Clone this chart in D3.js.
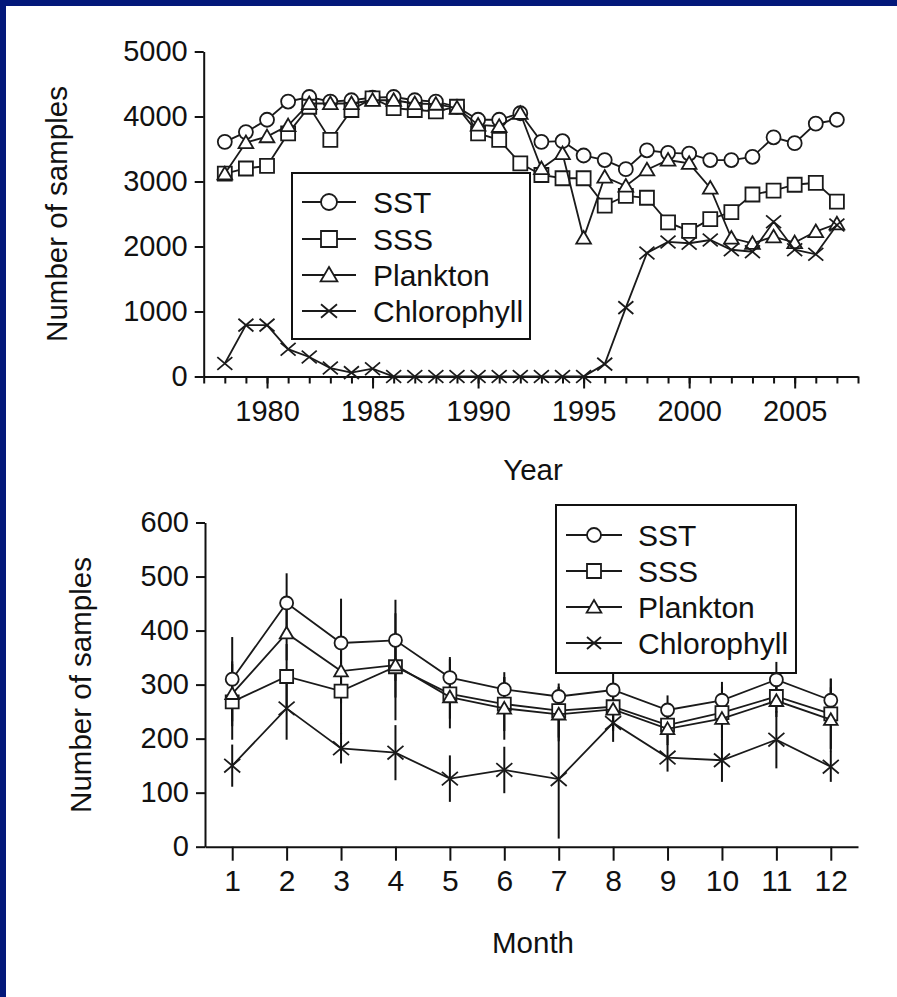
<!DOCTYPE html>
<html>
<head>
<meta charset="utf-8">
<script src="https://cdn.jsdelivr.net/npm/d3@7"></script>
<style>
  body { margin: 0; background: #fff; }
  text { font-family: "Liberation Sans", Arial, sans-serif; fill: #111; }
</style>
</head>
<body>
<div id="chart"></div>
<script>
// ---- data: annual totals (top panel) ----
var years = [1978, 1979, 1980, 1981, 1982, 1983, 1984, 1985, 1986, 1987,
             1988, 1989, 1990, 1991, 1992, 1993, 1994, 1995, 1996, 1997,
             1998, 1999, 2000, 2001, 2002, 2003, 2004, 2005, 2006, 2007];
var sstYear = [3610, 3760, 3950, 4230, 4300, 4230, 4250, 4290, 4300, 4250,
               4230, 4150, 3950, 3950, 4050, 3610, 3620, 3400, 3330, 3190,
               3480, 3440, 3430, 3330, 3330, 3380, 3680, 3590, 3890, 3950];
var sssYear = [3120, 3200, 3240, 3740, 4150, 3640, 4100, 4280, 4130, 4100,
               4080, 4150, 3740, 3640, 3280, 3100, 3050, 3050, 2630, 2780,
               2750, 2370, 2240, 2420, 2530, 2800, 2860, 2950, 2980, 2690];
var plkYear = [3120, 3600, 3690, 3860, 4200, 4200, 4200, 4250, 4250, 4200,
               4190, 4130, 3870, 3850, 4050, 3200, 3430, 2130, 3070, 2930,
               3180, 3330, 3280, 2900, 2130, 2050, 2150, 2060, 2230, 2350];
var chlYear = [200, 790, 790, 420, 300, 130, 60, 120, 0, 0,
               0, 0, 0, 0, 0, 0, 0, 0, 190, 1060,
               1900, 2070, 2050, 2100, 1950, 1920, 2380, 1950, 1880, 2330];
var yearMajorTicks = [1980, 1985, 1990, 1995, 2000, 2005];
var yearMinorTicks = [1977, 1978, 1979, 1980, 1981, 1982, 1983, 1984, 1985, 1986,
                      1987, 1988, 1989, 1990, 1991, 1992, 1993, 1994, 1995, 1996,
                      1997, 1998, 1999, 2000, 2001, 2002, 2003, 2004, 2005, 2006,
                      2007, 2008];
var yearYTicks = [0, 1000, 2000, 3000, 4000, 5000];

// ---- data: monthly means with error bars (bottom panel) ----
var months = [1, 2, 3, 4, 5, 6, 7, 8, 9, 10, 11, 12];
var sstMonth = [310, 451, 377, 382, 313, 291, 278, 290, 253, 271, 309, 271];
var sssMonth = [268, 315, 288, 333, 283, 264, 252, 259, 225, 248, 278, 246];
var plkMonth = [283, 395, 325, 336, 277, 256, 245, 254, 218, 237, 270, 235];
var chlMonth = [150, 256, 182, 174, 126, 142, 125, 229, 165, 160, 198, 148];
var sstErr = [78, 55, 82, 75, 38, 32, 18, 31, 27, 34, 33, 40];
var sssErr = [70, 60, 80, 99, 64, 50, 50, 40, 34, 48, 30, 65];
var plkErr = [60, 50, 60, 60, 40, 58, 50, 40, 30, 40, 30, 60];
var chlErr = [39, 58, 28, 51, 43, 43, 110, 35, 26, 40, 53, 28];
var monthYTicks = [0, 100, 200, 300, 400, 500, 600];

var seriesNames = ["SST", "SSS", "Plankton", "Chlorophyll"];
var seriesShapes = ["circle", "square", "triangle", "cross"];

function init() {
    var w = 897, h = 997;
    var svg = d3.select("#chart").append("svg")
        .attr("width", w)
        .attr("height", h);

    // white page with the dark blue frame at top and left
    svg.append("rect").attr("width", w).attr("height", h).attr("fill", "#fff");
    svg.append("rect").attr("width", w).attr("height", 6).attr("fill", "#03187a");
    svg.append("rect").attr("width", 6).attr("height", h).attr("fill", "#03187a");

    // marker path generator
    function markerPath(shape, s) {
        var r = s / 2;
        if (shape === "circle") {
            return "M" + (-r) + ",0A" + r + "," + r + " 0 1,0 " + r + ",0A" + r + "," + r + " 0 1,0 " + (-r) + ",0Z";
        } else if (shape === "square") {
            return "M" + (-r) + "," + (-r) + "H" + r + "V" + r + "H" + (-r) + "Z";
        } else if (shape === "triangle") {
            return "M0," + (-r * 1.0) + "L" + (r * 1.05) + "," + (r * 0.8) + "L" + (-r * 1.05) + "," + (r * 0.8) + "Z";
        }
        return "M" + (-r) + "," + (-r * 0.85) + "L" + r + "," + (r * 0.85) + "M" + (-r) + "," + (r * 0.85) + "L" + r + "," + (-r * 0.85);
    }

    function drawSeries(g, xs, vals, x, y, shape, size) {
        var line = d3.line()
            .x(function (d, i) { return x(xs[i]); })
            .y(function (d) { return y(d); });
        g.append("path")
            .datum(vals)
            .attr("d", line)
            .attr("fill", "none")
            .attr("stroke", "#1a1a1a")
            .attr("stroke-width", 1.8);
        g.selectAll(null)
            .data(vals)
            .enter()
            .append("path")
            .attr("transform", function (d, i) { return "translate(" + x(xs[i]) + "," + y(d) + ")"; })
            .attr("d", markerPath(shape, size))
            .attr("fill", shape === "cross" ? "none" : "#fff")
            .attr("stroke", "#1a1a1a")
            .attr("stroke-width", 1.8);
    }

    function drawLegend(g, x0, y0, boxW, boxH, lineX0, lineX1, textX, rowY, size) {
        g.append("rect")
            .attr("x", x0).attr("y", y0)
            .attr("width", boxW).attr("height", boxH)
            .attr("fill", "#fff")
            .attr("stroke", "#111")
            .attr("stroke-width", 2);
        seriesNames.forEach(function (name, i) {
            var yy = rowY[i];
            g.append("line")
                .attr("x1", lineX0).attr("x2", lineX1)
                .attr("y1", yy).attr("y2", yy)
                .attr("stroke", "#1a1a1a").attr("stroke-width", 1.8);
            g.append("path")
                .attr("transform", "translate(" + ((lineX0 + lineX1) / 2) + "," + yy + ")")
                .attr("d", markerPath(seriesShapes[i], size))
                .attr("fill", seriesShapes[i] === "cross" ? "none" : "#fff")
                .attr("stroke", "#1a1a1a").attr("stroke-width", 1.8);
            g.append("text")
                .attr("x", textX).attr("y", yy)
                .attr("dy", "0.37em")
                .style("font-size", "30px")
                .text(name);
        });
    }

    function styleAxis(g) {
        g.select(".domain").attr("stroke", "#111").attr("stroke-width", 2);
        g.selectAll(".tick line").attr("stroke", "#111").attr("stroke-width", 2);
        g.selectAll(".tick text").style("font-family", "Liberation Sans, Arial, sans-serif").attr("fill", "#111");
    }

    // ================= top panel =================
    var xTop = d3.scaleLinear().domain([1977, 2008]).range([203.7, 858]);
    var yTop = d3.scaleLinear().domain([0, 5000]).range([376.5, 51.5]);
    var top = svg.append("g");

    var yAxisTop = top.append("g")
        .attr("transform", "translate(" + xTop(1977) + ",0)")
        .call(d3.axisLeft(yTop).tickValues(yearYTicks).tickFormat(d3.format("d"))
            .tickSize(9).tickPadding(7).tickSizeOuter(0));
    yAxisTop.selectAll("text").style("font-size", "29px");
    styleAxis(yAxisTop);

    var xMinorTop = top.append("g")
        .attr("transform", "translate(0," + yTop(0) + ")")
        .call(d3.axisBottom(xTop).tickValues(yearMinorTicks).tickSize(7).tickFormat("").tickSizeOuter(0));
    styleAxis(xMinorTop);
    var xMajorTop = top.append("g")
        .attr("transform", "translate(0," + yTop(0) + ")")
        .call(d3.axisBottom(xTop).tickValues(yearMajorTicks).tickSize(12).tickPadding(12).tickFormat(d3.format("d")).tickSizeOuter(0));
    xMajorTop.select(".domain").remove();
    xMajorTop.selectAll("text").style("font-size", "29px");
    styleAxis(xMajorTop);

    top.append("text")
        .attr("transform", "translate(67,214) rotate(-90)")
        .attr("text-anchor", "middle")
        .style("font-size", "29.5px")
        .text("Number of samples");
    top.append("text")
        .attr("x", 533).attr("y", 480)
        .attr("text-anchor", "middle")
        .style("font-size", "29.5px")
        .text("Year");

    drawLegend(top, 292, 173, 238, 166, 302, 356, 373, [202, 239, 275, 311], 16);

    var topData = [sstYear, sssYear, plkYear, chlYear];
    topData.forEach(function (vals, i) {
        drawSeries(top.append("g"), years, vals, xTop, yTop, seriesShapes[i], i === 3 ? 15 : 14);
    });

    // ================= bottom panel =================
    var xBot = d3.scaleLinear().domain([0.5, 12.5]).range([205, 858]);
    var yBot = d3.scaleLinear().domain([0, 600]).range([846.7, 522.5]);
    var bot = svg.append("g");

    var yAxisBot = bot.append("g")
        .attr("transform", "translate(" + xBot(0.5) + ",0)")
        .call(d3.axisLeft(yBot).tickValues(monthYTicks).tickFormat(d3.format("d"))
            .tickSize(9).tickPadding(7).tickSizeOuter(0));
    yAxisBot.selectAll("text").style("font-size", "29px");
    styleAxis(yAxisBot);

    var xAxisBot = bot.append("g")
        .attr("transform", "translate(0," + yBot(0) + ")")
        .call(d3.axisBottom(xBot).tickValues(months).tickSize(14).tickPadding(9).tickSizeOuter(0));
    xAxisBot.selectAll("text").style("font-size", "30px");
    styleAxis(xAxisBot);

    bot.append("text")
        .attr("transform", "translate(91,685) rotate(-90)")
        .attr("text-anchor", "middle")
        .style("font-size", "29.5px")
        .text("Number of samples");
    bot.append("text")
        .attr("x", 533).attr("y", 953)
        .attr("text-anchor", "middle")
        .style("font-size", "29.5px")
        .text("Month");

    drawLegend(bot, 556, 505, 240, 168, 566, 622, 638, [535, 571, 607, 643], 14);

    var botData = [sstMonth, sssMonth, plkMonth, chlMonth];
    var botErr = [sstErr, sssErr, plkErr, chlErr];

    // error bars first, under the markers
    botData.forEach(function (vals, s) {
        bot.append("g")
            .selectAll("line")
            .data(vals)
            .enter()
            .append("line")
            .attr("x1", function (d, i) { return xBot(months[i]); })
            .attr("x2", function (d, i) { return xBot(months[i]); })
            .attr("y1", function (d, i) { return yBot(d - botErr[s][i]); })
            .attr("y2", function (d, i) { return yBot(d + botErr[s][i]); })
            .attr("stroke", "#111")
            .attr("stroke-width", 2);
    });

    botData.forEach(function (vals, i) {
        drawSeries(bot.append("g"), months, vals, xBot, yBot, seriesShapes[i], i === 3 ? 16 : 13);
    });
}
window.onload = init;
</script>
</body>
</html>
